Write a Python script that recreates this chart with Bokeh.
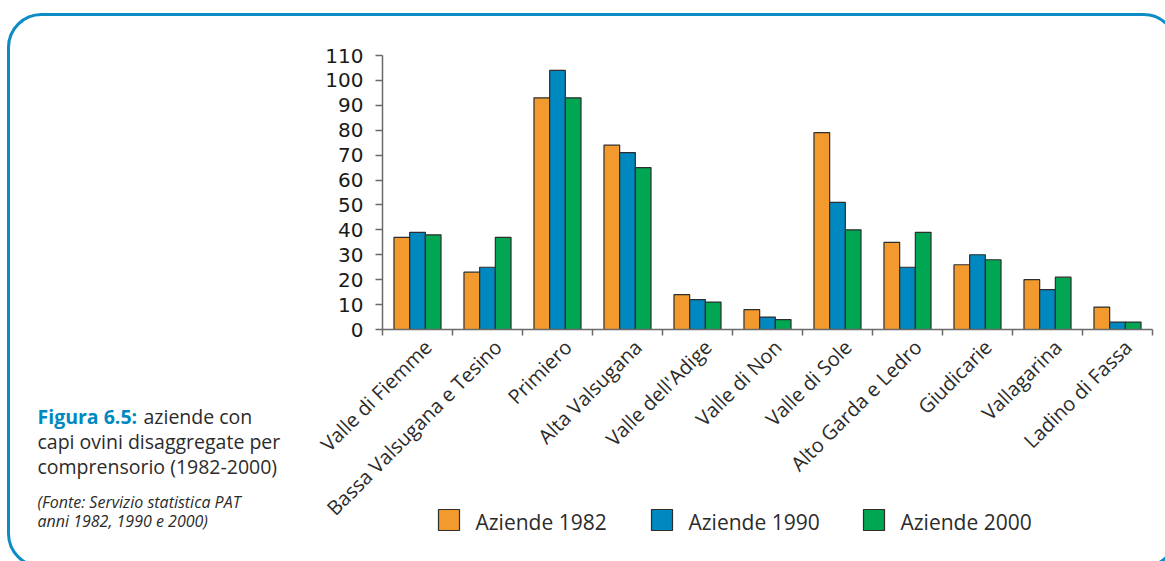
import math

from bokeh.plotting import figure
from bokeh.models import ColumnDataSource, Range1d, LinearAxis, FixedTicker
from bokeh.core.properties import value
from bokeh.transform import dodge
from bokeh.embed import file_html
from bokeh.resources import INLINE

# Aziende con capi ovini per comprensorio
comprensori = ["Valle di Fiemme", "Bassa Valsugana e Tesino", "Primiero", "Alta Valsugana",
               "Valle dell'Adige", "Valle di Non", "Valle di Sole", "Alto Garda e Ledro",
               "Giudicarie", "Vallagarina", "Ladino di Fassa"]
aziende_1982 = [37, 23, 93, 74, 14, 8, 79, 35, 26, 20, 9]
aziende_1990 = [39, 25, 104, 71, 12, 5, 51, 25, 30, 16, 3]
aziende_2000 = [38, 37, 93, 65, 11, 4, 40, 39, 28, 21, 3]
serie = ["Aziende 1982", "Aziende 1990", "Aziende 2000"]
y_ticks = list(range(0, 111, 10))

caption_title = "Figura 6.5:"
caption_lines = ["aziende con", "capi ovini disaggregate per", "comprensorio (1982-2000)"]
source_lines = ["(Fonte: Servizio statistica PAT", "anni 1982, 1990 e 2000)"]

# canvas and frame geometry (pixels)
W, H = 1165, 561
LEFT, RIGHT, TOP, BOTTOM = 382, 1152, 55, 329
BAR_W = 0.224
LABEL_SHIFT = 0.15

COLORS = ["#f39a2e", "#0089c0", "#00a651"]
OUTLINE = "#2e2e2e"
AXIS = "#6a6a6a"
TEXT = "#2b2b2b"
FRAME_BLUE = "#0b8cc4"

n = len(comprensori)
# each district occupies one unit slot on the x axis; groups sit at slot centres
src = ColumnDataSource(dict(cat=comprensori, slot=[i + 0.5 for i in range(n)],
                            a1982=aziende_1982, a1990=aziende_1990, a2000=aziende_2000))

p = figure(width=W, height=H,
           x_range=Range1d(0, n), y_range=Range1d(0, 110),
           output_backend="svg", toolbar_location=None,
           x_axis_location=None, y_axis_location=None,
           min_border_left=LEFT, min_border_right=W - RIGHT,
           min_border_top=TOP, min_border_bottom=H - BOTTOM,
           outline_line_color=None, background_fill_color="white",
           border_fill_color="white")
p.grid.visible = False

# "labels": slot coordinates shifted so that rotated names end beside their group
# "px"/"py": page pixel coordinates for the caption, legend and rounded frame
p.extra_x_ranges = {
    "labels": Range1d(-0.5 - LABEL_SHIFT, n - 0.5 - LABEL_SHIFT),
    "px": Range1d(LEFT, RIGHT),
}
p.extra_y_ranges = {"py": Range1d(BOTTOM, TOP)}

# bars
for col, off, color in zip(["a1982", "a1990", "a2000"], [-BAR_W, 0, BAR_W], COLORS):
    p.vbar(x=dodge("slot", off), top=col, width=BAR_W, source=src,
           fill_color=color, line_color=OUTLINE, line_width=1.2)

# y axis
yaxis = LinearAxis(ticker=FixedTicker(ticks=y_ticks),
                   axis_line_color=AXIS, axis_line_width=1.5,
                   major_tick_line_color=AXIS, major_tick_line_width=1.5,
                   major_tick_in=0, major_tick_out=7,
                   minor_tick_line_color=None,
                   major_label_standoff=12,
                   major_label_text_font="DejaVu Sans",
                   major_label_text_font_size="20px",
                   major_label_text_color="#1a1a1a")
p.add_layout(yaxis, "left")

# x axis: names at group centres, small ticks between the groups
bounds = [k - 0.5 - LABEL_SHIFT for k in range(n + 1)]
xaxis = LinearAxis(x_range_name="labels",
                   ticker=FixedTicker(ticks=list(range(n)), minor_ticks=bounds),
                   major_label_overrides={i: name for i, name in enumerate(comprensori)},
                   major_label_orientation=math.pi / 4,
                   axis_line_color=AXIS, axis_line_width=1.5,
                   major_tick_line_color=None, major_tick_in=0, major_tick_out=0,
                   minor_tick_line_color=AXIS, minor_tick_line_width=1.5,
                   minor_tick_in=0, minor_tick_out=6,
                   major_label_standoff=8,
                   major_label_text_font="Open Sans",
                   major_label_text_font_size="20px",
                   major_label_text_color=TEXT)
p.add_layout(xaxis, "below")

# legend: one swatch and name per series, in page pixels
leg_x = [438, 651, 863]
p.quad(left=leg_x, right=[x + 21 for x in leg_x], top=[509] * 3, bottom=[530] * 3,
       x_range_name="px", y_range_name="py", fill_color=COLORS,
       line_color=OUTLINE, line_width=1.2, level="overlay")
leg_src = ColumnDataSource(dict(x=[x + 37 for x in leg_x], y=[521] * 3, text=serie))
p.text(x="x", y="y", text="text", source=leg_src, x_range_name="px", y_range_name="py",
       text_font=value("Open Sans"), text_font_size="21px", text_color=TEXT,
       text_baseline="alphabetic", level="overlay")

# rounded frame around the figure
p.quad(left=[8], right=[1176], top=[14], bottom=[566],
       x_range_name="px", y_range_name="py", border_radius=33,
       fill_alpha=0, line_color=FRAME_BLUE, line_width=3, level="overlay")

# caption
cap_src = ColumnDataSource(dict(x=[143, 37, 37], y=[416, 441, 466], text=caption_lines))
p.text(x="x", y="y", text="text", source=cap_src, x_range_name="px", y_range_name="py",
       text_font=value("Open Sans"), text_font_size="19.5px", text_color=TEXT,
       text_baseline="alphabetic", level="overlay")
p.text(x=[37], y=[416], text=[caption_title], x_range_name="px", y_range_name="py",
       text_font=value("Open Sans"), text_font_size="19.5px", text_font_style="bold",
       text_color="#0089c0", text_baseline="alphabetic", level="overlay")
src_src = ColumnDataSource(dict(x=[37, 37], y=[501, 520], text=source_lines))
p.text(x="x", y="y", text="text", source=src_src, x_range_name="px", y_range_name="py",
       text_font=value("Open Sans"), text_font_size="16px", text_font_style="italic",
       text_color=TEXT, text_baseline="alphabetic", level="overlay")

open("out.html", "w").write(file_html(p, INLINE))
